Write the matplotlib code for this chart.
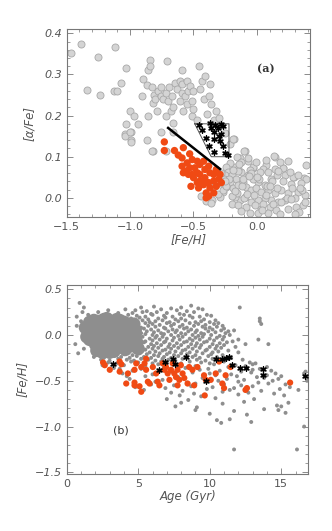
import numpy as np
import matplotlib
matplotlib.use('Agg')
import matplotlib.pyplot as plt
from matplotlib.ticker import MultipleLocator

# ---- panel (a): [alpha/Fe] vs [Fe/H] ----
feh_a_gray = [-1.47, -1.39, -1.34, -1.25, -1.24, -1.12, -1.13, -1.10, -1.07, -1.03,
              -1.00, -0.97, -0.99, -1.04, -1.03, -0.99, -0.94, -0.91, -0.90, -0.87,
              -0.86, -0.86, -0.84, -0.84, -0.83, -0.82, -0.82, -0.81, -0.80, -0.79,
              -0.78, -0.76, -0.76, -0.74, -0.72, -0.71, -0.72, -0.70, -0.69, -0.68,
              -0.67, -0.66, -0.66, -0.645, -0.63, -0.61, -0.61, -0.59, -0.59, -0.59,
              -0.58, -0.57, -0.55, -0.55, -0.54, -0.53, -0.51, -0.51, -0.50, -0.50,
              -0.47, -0.46, -0.45, -0.43, -0.42, -0.41, -0.39, -0.38, -0.37, -0.36,
              -0.34, -0.32, -0.30, -0.29, -0.25, -0.21, -0.18, -0.13, -0.09, -0.07,
              -0.03, 0.14, 0.21, 0.29, 0.37, -1.04, -1.00, -0.99, -0.87, -0.83,
              -0.76, -0.72, -0.66,
              -0.188, -0.154, -0.101, -0.069, 0.136, 0.075, 0.049, 0.207, 0.286, 0.391,
              0.352, 0.273, 0.162, 0.115, 0.062, 0.010, -0.030, -0.070, -0.122, -0.175,
              -0.214, -0.240, -0.227, -0.254, -0.200, -0.161, -0.214, -0.240, -0.188, -0.148,
              -0.109, -0.082, -0.043, -0.004, 0.036, 0.088, 0.141, 0.194, 0.246, 0.325,
              0.378, 0.299, 0.220, 0.167, 0.115, 0.062, 0.010, -0.043, -0.096, -0.135,
              -0.175, -0.200, -0.148, -0.082, -0.017, 0.036, 0.102, 0.154, 0.181, 0.246,
              0.312, 0.365, 0.089, 0.010, -0.056, -0.122, -0.267, -0.293, -0.280, -0.030,
              0.023, 0.089, 0.141, 0.220, 0.325, 0.391, 0.246, 0.181, 0.075, -0.004,
              -0.122, -0.148, -0.056, -0.31, -0.27, -0.35, -0.40, -0.44, -0.33, -0.26,
              -0.12, -0.05, 0.02, 0.08, 0.17, 0.28, 0.33, -0.16, -0.10, 0.00,
              0.05, 0.12, 0.19, 0.24, -0.22, -0.15, -0.08, 0.30, 0.36, -0.36,
              -0.24, -0.19, -0.11, 0.04, 0.26, 0.38, -0.28, -0.14, 0.07, 0.16,
              -0.20, -0.06, 0.10, 0.21, 0.34, -0.25, -0.02, 0.13, 0.27, -0.17]
afe_a_gray = [0.351, 0.375, 0.263, 0.343, 0.250, 0.367, 0.260, 0.260, 0.280, 0.315,
              0.210, 0.200, 0.160, 0.155, 0.180, 0.140, 0.180, 0.247, 0.290, 0.275,
              0.200, 0.310, 0.335, 0.320, 0.270, 0.115, 0.230, 0.250, 0.240, 0.210,
              0.260, 0.270, 0.248, 0.240, 0.255, 0.333, 0.200, 0.235, 0.270, 0.210,
              0.248, 0.222, 0.182, 0.280, 0.264, 0.284, 0.235, 0.310, 0.276, 0.256,
              0.210, 0.248, 0.284, 0.228, 0.260, 0.272, 0.235, 0.200, 0.260, 0.215,
              0.190, 0.320, 0.264, 0.284, 0.240, 0.296, 0.203, 0.248, 0.276, 0.228,
              0.190, 0.210, 0.195, 0.178, 0.158, 0.130, 0.142, 0.097, 0.114, 0.090,
              0.073, 0.100, 0.073, 0.051, 0.049, 0.151, 0.160, 0.135, 0.140, 0.115,
              0.160, 0.113, 0.159,
              0.143, 0.100, 0.114, 0.096, 0.102, 0.081, 0.071, 0.073, 0.051, 0.047,
              0.035, 0.033, 0.055, 0.047, 0.031, 0.039, 0.047, 0.055, 0.063, 0.076,
              0.084, 0.076, 0.063, 0.055, 0.055, 0.047, 0.039, 0.027, 0.023, 0.031,
              0.039, 0.027, 0.019, 0.023, 0.015, 0.019, 0.011, 0.019, 0.011, 0.015,
              0.007, -0.001, -0.006, -0.010, -0.006, -0.001, -0.006, -0.010, 0.002, -0.006,
              0.002, -0.014, -0.018, -0.022, -0.018, -0.026, -0.022, -0.030, -0.040, -0.026,
              -0.022, -0.018, -0.038, -0.036, -0.036, -0.032, 0.015, 0.002, 0.035, 0.076,
              0.063, 0.063, 0.071, 0.055, 0.055, 0.080, 0.089, 0.088, 0.092, 0.088,
              0.088, 0.071, 0.067, 0.010, 0.020, -0.005, -0.008, 0.005, 0.028, 0.045,
              0.030, 0.060, 0.045, 0.030, 0.065, 0.025, -0.035, 0.012, 0.000, 0.050,
              -0.015, 0.040, -0.010, 0.000, 0.045, 0.065, 0.010, -0.040, 0.020, -0.012,
              0.030, 0.068, 0.045, -0.030, 0.062, -0.010, 0.060, 0.082, 0.008, 0.024,
              0.004, 0.052, 0.030, 0.042, 0.024, 0.040, 0.008, -0.016, -0.004, 0.016]

feh_a_red = [-0.73, -0.73, -0.65, -0.58, -0.62, -0.59, -0.53, -0.51, -0.55, -0.47,
             -0.49, -0.45, -0.42, -0.38, -0.59, -0.57, -0.53, -0.51, -0.47, -0.45,
             -0.41, -0.37, -0.34, -0.32, -0.29, -0.58, -0.54, -0.50, -0.45, -0.41,
             -0.38, -0.34, -0.30, -0.42, -0.46, -0.37, -0.32, -0.40, -0.52, -0.34,
             -0.28, -0.40, -0.38, -0.43, -0.47]
afe_a_red = [0.136, 0.115, 0.115, 0.122, 0.104, 0.097, 0.107, 0.093, 0.085, 0.089,
             0.073, 0.081, 0.089, 0.077, 0.077, 0.065, 0.073, 0.057, 0.061, 0.057,
             0.069, 0.061, 0.057, 0.069, 0.057, 0.061, 0.057, 0.049, 0.041, 0.049,
             0.037, 0.041, 0.045, 0.032, 0.024, 0.024, 0.028, 0.012, 0.028, 0.012,
             0.037, 0.000, 0.004, 0.041, 0.037]

feh_a_star = [-0.455, -0.37, -0.33, -0.285, -0.27, -0.43, -0.36, -0.31, -0.295, -0.40,
              -0.34, -0.29, -0.38, -0.27, -0.34, -0.25, -0.23, -0.28, -0.34]
afe_a_star = [0.178, 0.183, 0.178, 0.180, 0.174, 0.166, 0.170, 0.169, 0.150, 0.146,
              0.144, 0.138, 0.126, 0.126, 0.112, 0.108, 0.105, 0.156, 0.160]

line_feh = [-0.70, -0.29]
line_afe = [0.17, 0.07]
box_feh = [-0.49, -0.22, -0.22, -0.36, -0.49]
box_afe = [0.18, 0.18, 0.10, 0.10, 0.18]

# ---- panel (b): [Fe/H] vs age ----
# dense core of the thin disc sample
age_core = [1.5, 1.6, 1.8, 1.9, 2.0, 2.0, 2.2, 2.3, 2.3, 2.4, 2.5, 2.6, 2.6, 2.7, 2.8,
            2.9, 2.9, 3.0, 3.1, 3.1, 3.2, 3.3, 3.3, 3.4, 3.5, 3.6, 3.6, 3.7, 3.8, 3.9,
            4.0, 4.1, 4.2, 4.3, 4.4, 4.5, 2.1, 1.7, 2.8, 3.5, 4.0, 3.0, 2.5, 4.6, 1.4,
            2.2, 3.7, 4.3, 1.9, 2.7, 3.4, 4.1, 4.8, 4.9, 5.0, 4.7, 1.3, 1.6]
feh_core = [0.05, -0.05, 0.12, 0.00, -0.10, 0.08, 0.15, -0.02, 0.05, -0.15, 0.10, 0.17, -0.08, 0.02, -0.17,
            0.12, -0.05, 0.06, -0.12, 0.15, 0.00, -0.18, 0.10, -0.06, 0.04, -0.14, 0.13, -0.02, 0.08, -0.10,
            0.02, -0.16, 0.10, -0.06, 0.04, -0.12, -0.17, 0.06, 0.18, 0.17, 0.14, -0.19, -0.19, -0.02, -0.02,
            -0.12, 0.16, 0.12, 0.16, -0.12, -0.14, 0.06, 0.05, -0.08, -0.15, 0.12, 0.08, 0.14]

age_b_gray = [5.2, 6.1, 7.3, 8.0, 8.7, 9.2, 4.8, 5.6, 6.6, 7.7, 8.4, 9.5,
              4.6, 5.3, 5.9, 6.3, 7.0, 7.9, 8.9, 9.8, 4.9, 5.5, 6.0, 6.8, 7.4, 8.2, 8.6, 9.3, 10.1,
              4.5, 5.1, 5.7, 6.4, 6.9, 7.6, 8.0, 8.8, 9.6, 10.4,
              4.7, 5.3, 5.8, 6.2, 6.7, 7.2, 7.8, 8.3, 9.0, 9.4, 10.0, 10.6,
              4.6, 5.0, 5.5, 6.0, 6.5, 7.0, 7.5, 8.1, 8.6, 9.2, 9.7, 10.3, 10.9,
              4.8, 5.2, 5.7, 6.2, 6.8, 7.3, 7.9, 8.4, 8.9, 9.5, 10.0, 10.5, 11.0,
              4.5, 5.0, 5.4, 5.9, 6.4, 6.9, 7.4, 7.7, 8.2, 8.7, 9.1, 9.7, 10.2, 10.8, 11.3,
              4.7, 5.2, 5.6, 6.1, 6.6, 7.1, 7.6, 8.0, 8.5, 9.0, 9.4, 9.9, 10.4, 11.1,
              4.6, 5.1, 5.5, 6.0, 6.3, 6.8, 7.3, 7.8, 8.3, 8.8, 9.2, 9.6, 10.1, 10.7, 11.4,
              4.8, 5.3, 5.8, 6.2, 6.7, 7.0, 7.5, 8.1, 8.6, 9.0, 9.5, 10.0, 10.5, 11.0,
              4.6, 5.0, 5.5, 6.0, 6.5, 6.9, 7.4, 7.9, 8.4, 8.8, 9.3, 9.8, 10.3, 10.9, 11.6,
              4.9, 5.4, 5.9, 6.3, 6.8, 7.2, 7.7, 8.2, 8.7, 9.1, 9.6, 10.2, 10.7, 11.2,
              4.7, 5.2, 5.7, 6.1, 6.6, 7.1, 7.5, 8.0, 8.5, 9.0, 9.4, 10.0, 10.5, 11.0, 11.8,
              4.5, 5.0, 5.5, 6.0, 6.4, 6.9, 7.3, 7.8, 8.3, 8.8, 9.3, 9.8, 10.4, 10.8,
              4.8, 5.3, 5.8, 6.2, 6.7, 7.2, 7.6, 8.1, 8.6, 9.1, 9.7, 10.2, 10.6, 11.3, 12.0,
              2.2, 2.8, 3.4, 4.0, 4.6, 5.1, 5.6, 6.1, 6.5, 7.0, 7.5, 8.0, 8.4, 9.0, 9.5, 10.1, 10.9,
              1.9, 2.6, 3.2, 3.8, 4.4, 4.9, 5.4, 5.9, 6.4, 6.8, 7.3, 7.8, 8.8, 9.3, 9.9, 10.5, 11.5,
              2.4, 3.0, 3.6, 4.2, 4.7, 5.2, 5.7, 6.2, 6.7, 7.1, 7.6, 8.1, 9.1, 9.7, 10.2, 12.3,
              2.9, 3.5, 4.5, 5.0, 6.0, 6.6, 7.0, 8.0, 8.6, 9.4, 10.0, 11.0, 12.8, 13.2,
              4.0, 5.5, 6.4, 7.7, 9.0, 10.3, 11.8, 12.5, 13.0,
              3.3, 5.2, 6.8, 8.3, 9.9, 11.3, 12.6, 13.5, 14.0,
              4.6, 7.3, 9.3, 10.7, 12.2, 13.0, 14.3,
              3.9, 6.0, 8.8, 10.0, 11.5, 12.9, 14.6,
              5.5, 7.8, 10.4, 11.9, 13.3, 14.0, 15.0,
              4.4, 6.7, 9.5, 11.2, 12.4, 13.8, 14.8,
              6.2, 8.4, 10.6, 12.0, 13.4, 14.4,
              5.9, 7.5, 9.0, 11.0, 12.2, 14.1, 15.3,
              4.8, 6.9, 8.7, 10.2, 11.7, 13.0, 15.6,
              5.4, 8.1, 9.8, 11.4, 13.6, 14.9, 16.2,
              7.3, 8.9, 10.9, 12.7, 14.5,
              7.9, 9.4, 12.0, 15.2,
              7.0, 8.5, 10.4, 13.1,
              8.0, 10.9, 12.4, 15.5,
              7.6, 9.1, 14.7, 15.0,
              9.0, 11.7, 13.8, 14.8,
              10.0, 12.6, 15.3,
              10.5, 11.4, 10.8, 12.9, 16.6, 11.7, 16.1,
              12.1, 13.5, 13.5, 13.6, 0.9, 0.7, 0.7, 0.6, 0.8, 1.1, 1.2,
              11.7, 12.0, 12.5, 13.4, 14.1, 16.6, 16.7, 16.8,
              1.2, 1.5, 2.2, 2.9, 3.6, 4.1, 4.3, 1.0, 1.3,
              2.5, 3.7, 4.2]
feh_b_gray = [0.30, 0.31, 0.29, 0.30, 0.32, 0.29, 0.27, 0.26, 0.28, 0.27, 0.26, 0.28,
              0.24, 0.25, 0.23, 0.25, 0.24, 0.23, 0.25, 0.22, 0.21, 0.20, 0.22, 0.21, 0.20, 0.22, 0.21, 0.20, 0.21,
              0.18, 0.19, 0.17, 0.18, 0.19, 0.17, 0.18, 0.19, 0.17, 0.16,
              0.15, 0.16, 0.14, 0.15, 0.16, 0.14, 0.15, 0.16, 0.14, 0.15, 0.14, 0.13,
              0.12, 0.11, 0.13, 0.12, 0.11, 0.13, 0.12, 0.11, 0.13, 0.12, 0.11, 0.12, 0.10,
              0.09, 0.08, 0.10, 0.09, 0.08, 0.10, 0.09, 0.08, 0.10, 0.09, 0.08, 0.09, 0.07,
              0.06, 0.05, 0.07, 0.06, 0.05, 0.07, 0.06, 0.05, 0.07, 0.06, 0.05, 0.07, 0.06, 0.05, 0.04,
              0.03, 0.02, 0.04, 0.03, 0.02, 0.04, 0.03, 0.02, 0.04, 0.03, 0.02, 0.04, 0.03, 0.02,
              0.00, -0.01, 0.01, 0.00, -0.01, 0.01, 0.00, -0.01, 0.01, 0.00, -0.01, 0.01, 0.00, -0.01, 0.00,
              -0.03, -0.02, -0.04, -0.03, -0.02, -0.04, -0.03, -0.02, -0.04, -0.03, -0.02, -0.04, -0.03, -0.02,
              -0.06, -0.05, -0.07, -0.06, -0.05, -0.07, -0.06, -0.05, -0.07, -0.06, -0.05, -0.07, -0.06, -0.05, -0.07,
              -0.09, -0.08, -0.10, -0.09, -0.08, -0.10, -0.09, -0.08, -0.10, -0.09, -0.08, -0.10, -0.09, -0.08,
              -0.12, -0.11, -0.13, -0.12, -0.11, -0.13, -0.12, -0.11, -0.13, -0.12, -0.11, -0.13, -0.12, -0.11, -0.13,
              -0.15, -0.14, -0.16, -0.15, -0.14, -0.16, -0.15, -0.14, -0.16, -0.15, -0.14, -0.16, -0.15, -0.14,
              -0.18, -0.17, -0.19, -0.18, -0.17, -0.19, -0.18, -0.17, -0.19, -0.18, -0.17, -0.19, -0.18, -0.17, -0.19,
              -0.21, -0.22, -0.20, -0.21, -0.22, -0.20, -0.21, -0.22, -0.20, -0.21, -0.22, -0.20, -0.21, -0.22, -0.20, -0.21, -0.22,
              -0.24, -0.25, -0.23, -0.24, -0.25, -0.23, -0.24, -0.25, -0.23, -0.24, -0.25, -0.23, -0.24, -0.25, -0.23, -0.24, -0.25,
              -0.27, -0.28, -0.26, -0.27, -0.28, -0.26, -0.27, -0.28, -0.26, -0.27, -0.28, -0.26, -0.27, -0.28, -0.26, -0.27,
              -0.30, -0.31, -0.29, -0.30, -0.31, -0.29, -0.30, -0.31, -0.29, -0.30, -0.31, -0.29, -0.30, -0.31,
              -0.33, -0.34, -0.32, -0.33, -0.34, -0.32, -0.33, -0.34, -0.32,
              -0.36, -0.37, -0.35, -0.36, -0.37, -0.35, -0.36, -0.37, -0.35,
              -0.39, -0.40, -0.38, -0.39, -0.40, -0.38, -0.39,
              -0.42, -0.43, -0.41, -0.42, -0.43, -0.41, -0.42,
              -0.45, -0.46, -0.44, -0.45, -0.46, -0.44, -0.45,
              -0.48, -0.49, -0.47, -0.48, -0.49, -0.47, -0.48,
              -0.51, -0.52, -0.50, -0.51, -0.52, -0.50,
              -0.54, -0.55, -0.53, -0.54, -0.55, -0.53, -0.54,
              -0.57, -0.58, -0.56, -0.57, -0.58, -0.56, -0.57,
              -0.60, -0.61, -0.59, -0.60, -0.61, -0.59, -0.60,
              -0.63, -0.64, -0.62, -0.63, -0.64,
              -0.66, -0.67, -0.65, -0.66,
              -0.70, -0.71, -0.69, -0.70,
              -0.74, -0.75, -0.73, -0.74,
              -0.78, -0.79, -0.77, -0.78,
              -0.82, -0.83, -0.81, -0.82,
              -0.86, -0.87, -0.85,
              -0.93, -0.92, -0.96, -0.95, -1.00, -1.25, -1.25,
              0.30, 0.18, 0.15, 0.12, 0.35, 0.20, 0.10, -0.10, -0.20, 0.25, -0.15,
              0.05, -0.05, -0.10, -0.05, -0.10, -0.42, -0.40, -0.50,
              0.30, 0.22, 0.25, 0.27, 0.24, 0.28, 0.22, 0.15, 0.10,
              -0.33, -0.37, -0.45]

age_b_red = [2.54, 2.66, 3.70, 3.82, 3.70, 4.28, 4.16, 4.74, 4.74, 5.21, 5.09, 4.86,
             5.21, 5.44, 5.55, 5.67, 5.79, 6.02, 6.25, 6.36, 6.48, 6.71, 6.83, 6.94,
             7.06, 7.18, 7.29, 7.41, 7.52, 7.64, 7.75, 7.75, 7.87, 7.98, 8.10, 8.22,
             8.45, 8.56, 8.79, 8.91, 9.14, 9.60, 9.72, 9.65, 10.07, 10.42, 10.65, 10.88,
             11.00, 11.11, 11.46, 12.50, 12.60, 15.62, 5.55, 4.74, 3.01]
feh_b_red = [-0.30, -0.33, -0.29, -0.32, -0.40, -0.42, -0.53, -0.52, -0.55, -0.62, -0.56, -0.31,
             -0.35, -0.31, -0.38, -0.51, -0.53, -0.35, -0.42, -0.51, -0.55, -0.31, -0.38, -0.35,
             -0.42, -0.49, -0.38, -0.31, -0.42, -0.46, -0.38, -0.55, -0.49, -0.33, -0.42, -0.47,
             -0.53, -0.35, -0.38, -0.55, -0.35, -0.44, -0.49, -0.66, -0.49, -0.42, -0.29, -0.53,
             -0.58, -0.44, -0.35, -0.60, -0.58, -0.52, -0.26, -0.38, -0.38]

age_b_star = [3.24, 6.43, 6.90, 7.40, 7.57, 8.33, 9.72, 10.46, 10.88, 11.11, 11.34, 11.57,
              12.15, 12.50, 13.70, 13.70, 16.66]
feh_b_star = [-0.32, -0.38, -0.30, -0.26, -0.32, -0.24, -0.50, -0.26, -0.26, -0.255, -0.24, -0.33,
              -0.36, -0.36, -0.375, -0.44, -0.45]

tick_col = '#555555'
plt.rcParams['font.family'] = ['DejaVu Sans']

fig = plt.figure(figsize=(3.32, 5.31), dpi=100)
ax1 = fig.add_axes([0.201, 0.591, 0.733, 0.354])
ax2 = fig.add_axes([0.201, 0.107, 0.728, 0.357])


def style_axes(ax):
    for sp in ax.spines.values():
        sp.set_color('#777777')
        sp.set_linewidth(0.8)
    ax.tick_params(which='both', direction='in', top=True, right=True,
                   colors='#777777', labelcolor=tick_col, labelsize=8)
    ax.tick_params(which='major', length=4, width=0.6)
    ax.tick_params(which='minor', length=2, width=0.5)
    for lab in ax.get_yticklabels():
        lab.set_fontstyle('italic')


# panel a
ax1.scatter(feh_a_gray, afe_a_gray, s=26, facecolor='#d4d4d4', edgecolor='#a8a8a8',
            linewidth=0.6, zorder=2)
ax1.scatter(feh_a_red, afe_a_red, s=28, color='#f04a14', edgecolor='none', zorder=3)
ax1.plot(box_feh, box_afe, color='#555555', lw=0.7, zorder=4)
ax1.scatter(feh_a_star, afe_a_star, s=16, marker=(6, 2, 0), color='black', lw=0.9, zorder=5)
ax1.scatter(feh_a_star, afe_a_star, s=4, color='black', zorder=5)
ax1.plot(line_feh, line_afe, color='black', lw=1.8, zorder=5)
ax1.text(0.07, 0.315, '(a)', fontsize=8, fontweight='bold', family='DejaVu Serif',
         color='#333333', ha='center', va='center')
ax1.set_xlim(-1.5, 0.42)
ax1.set_ylim(-0.047, 0.41)
ax1.xaxis.set_major_locator(MultipleLocator(0.5))
ax1.xaxis.set_minor_locator(MultipleLocator(0.1))
ax1.yaxis.set_major_locator(MultipleLocator(0.1))
ax1.yaxis.set_minor_locator(MultipleLocator(0.02))
ax1.set_xticks([-1.5, -1.0, -0.5, 0.0])
ax1.set_xticklabels(['\u22121.5', '\u22121.0', '\u22120.5', '0.0'])
ax1.set_yticks([0.0, 0.1, 0.2, 0.3, 0.4])
ax1.set_yticklabels(['0.0', '0.1', '0.2', '0.3', '0.4'])
ax1.set_xlabel('[Fe/H]', fontsize=8.5, color=tick_col, style='italic', labelpad=1)
ax1.set_ylabel('[\u03b1/Fe]', fontsize=8.5, color=tick_col, style='italic', labelpad=6)
style_axes(ax1)

# panel b
ax2.scatter(age_core, feh_core, s=90, color='#8e8e8e', edgecolor='none', zorder=1)
ax2.scatter(age_b_gray, feh_b_gray, s=8, color='#8e8e8e', edgecolor='none', zorder=2)
ax2.scatter(age_b_red, feh_b_red, s=20, color='#f04a14', edgecolor='none', zorder=3)
ax2.scatter(age_b_star, feh_b_star, s=16, marker=(6, 2, 0), color='black', lw=0.9, zorder=4)
ax2.scatter(age_b_star, feh_b_star, s=4, color='black', zorder=4)
ax2.text(3.8, -1.04, '(b)', fontsize=8, color='#333333', ha='center', va='center')
ax2.set_xlim(0, 16.9)
ax2.set_ylim(-1.52, 0.55)
ax2.xaxis.set_major_locator(MultipleLocator(5))
ax2.xaxis.set_minor_locator(MultipleLocator(1))
ax2.yaxis.set_minor_locator(MultipleLocator(0.1))
ax2.set_yticks([-1.5, -1.0, -0.5, 0.0, 0.5])
ax2.set_yticklabels(['\u22121.5', '\u22121.0', '\u22120.5', '0.0', '0.5'])
ax2.set_xticks([0, 5, 10, 15])
ax2.set_xlabel('Age (Gyr)', fontsize=8.5, color=tick_col, style='italic', labelpad=1)
ax2.set_ylabel('[Fe/H]', fontsize=8.5, color=tick_col, style='italic', labelpad=4)
style_axes(ax2)

fig.savefig('out.png', dpi=100)
